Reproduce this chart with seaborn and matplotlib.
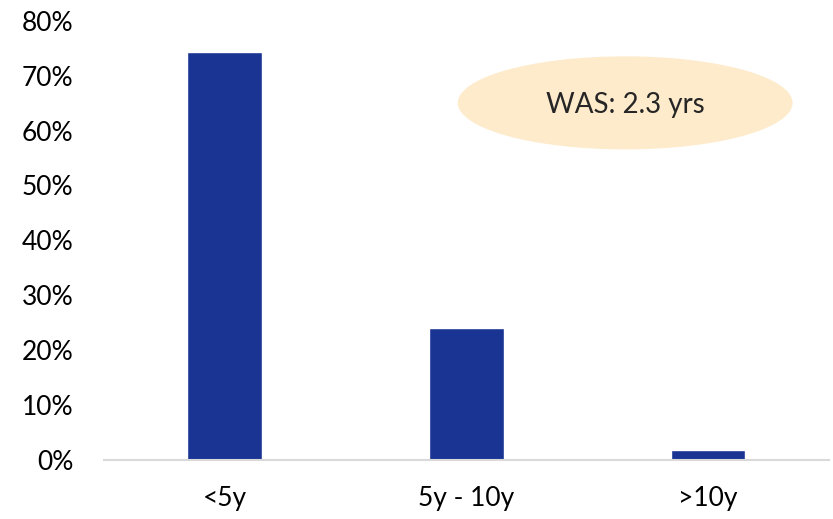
import seaborn as sns
import matplotlib.pyplot as plt
import pandas as pd
from matplotlib.patches import Ellipse
from matplotlib.ticker import PercentFormatter

buckets = ['<5y', '5y - 10y', '>10y']
shares = [74.3, 24.1, 1.8]

df = pd.DataFrame({'bucket': buckets, 'share': shares})

sns.set_theme(style='white')
plt.rcParams['font.family'] = ['Lato', 'DejaVu Sans']

fig, ax = plt.subplots(figsize=(8.33, 5.19), dpi=100)
plt.subplots_adjust(left=0.125, right=0.995, bottom=0.114, top=0.96)

sns.barplot(data=df, x='bucket', y='share', color='#1A3494', width=0.31,
            saturation=1, ax=ax)

ax.set_ylim(0, 80)
ax.set_yticks(range(0, 81, 10))
ax.yaxis.set_major_formatter(PercentFormatter(decimals=0))
ax.set_xlabel('')
ax.set_ylabel('')
ax.tick_params(axis='both', labelsize=19, length=0, colors='black')
ax.tick_params(axis='y', pad=22)
ax.tick_params(axis='x', pad=19)

for s in ['top', 'right', 'left']:
    ax.spines[s].set_visible(False)
ax.spines['bottom'].set_color('#D9D9D9')
ax.spines['bottom'].set_linewidth(1.5)

ell = Ellipse((0.719, 0.813), 0.462, 0.212, transform=ax.transAxes,
              facecolor='#FDEBCB', edgecolor='none', clip_on=False)
ax.add_patch(ell)
ax.text(0.719, 0.808, 'WAS: 2.3 yrs', transform=ax.transAxes,
        ha='center', va='center', fontsize=20)

plt.savefig('out.png', dpi=100)
plt.close()
